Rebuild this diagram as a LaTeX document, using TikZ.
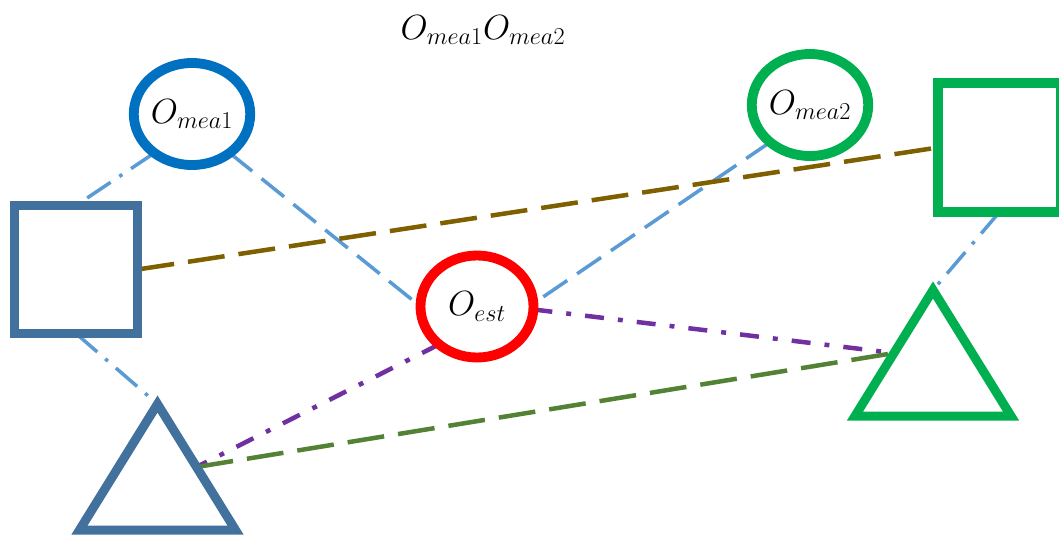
\documentclass[tikz,border=0pt]{standalone}
\usepackage{amssymb, amsmath}
\usepackage{tikz}
\usetikzlibrary{calc, shapes.geometric, backgrounds}
\definecolor{meablue}{RGB}{0, 112, 192}
\definecolor{meagreen}{RGB}{0, 176, 80}
\definecolor{estred}{RGB}{255, 0, 0}
\definecolor{slate}{RGB}{65, 113, 156}
\definecolor{skyline}{RGB}{91, 155, 213}
\definecolor{ochre}{RGB}{127, 96, 0}
\definecolor{violet}{RGB}{112, 48, 160}
\definecolor{olive}{RGB}{84, 130, 53}

\begin{document}
\begin{tikzpicture}[x=0.025cm, y=-0.025cm,
    font=\fontsize{24}{28}\selectfont,
    obs/.style={ellipse, draw=#1, line width=7pt, inner sep=0pt, outer sep=0pt,
      minimum width=2.825cm, minimum height=2.55cm},
    box/.style={rectangle, draw=#1, line width=6.8pt, inner sep=0pt, outer sep=0pt,
      minimum width=3.075cm, minimum height=3.2cm},
    tri/.style={isosceles triangle, isosceles triangle stretches,
      shape border rotate=90, draw=#1, line width=6.4pt, inner sep=0pt, outer sep=0pt,
      minimum width=3.9cm, minimum height=3.15cm, anchor=apex},
    skydash/.style={skyline, line width=2.5pt, dash pattern=on 20.6pt off 8.5pt},
    skydot/.style={skyline, line width=2.5pt,
      dash pattern=on 20pt off 7.5pt on 2.5pt off 7.5pt},
    violetdot/.style={violet, line width=3.2pt,
      dash pattern=on 13.5pt off 10pt on 3.5pt off 10pt},
    longdash/.style={line width=3.2pt, dash pattern=on 26.3pt off 10pt}]

  \useasboundingbox (0, 0) rectangle (1059, 535);

  \node (title) at (483, 30) { $O_{mea1}O_{mea2}$ };

  \node[obs=meablue] (mea1) at (192, 114) { $O_{mea1}$ };
  \node[obs=meagreen] (mea2) at (810, 105) { $O_{mea2}$ };
  \node[obs=estred] (est) at (477, 306.5) { $O_{est}$ };

  \node[box=slate] (lsq) at (76, 269.5) {};
  \node[box=meagreen, minimum height=3.225cm] (gsq) at (999.5, 147.5) {};

  \node[tri=slate] (ltri) at (157.5, 404) {};
  \node[tri=meagreen] (gtri) at (933, 290) {};

  \coordinate (ltri-r) at ($(ltri.apex)!0.5!(ltri.right corner)$);
  \coordinate (gtri-l) at ($(gtri.apex)!0.5!(gtri.left corner)$);

  \begin{pgfonlayer}{background}
    \draw[skydot] (mea1.226) -- (lsq.north);
    \draw[skydash] (mea1.-46) -- (est.180);
    \draw[skydash] (mea2.223) -- (est.3);
    \draw[longdash, ochre] (lsq.east) -- (gsq.west);
    \draw[skydot] (lsq.south) -- (ltri.apex);
    \draw[violetdot] (est.225) -- (ltri-r);
    \draw[violetdot] (est.-3) -- (gtri-l);
    \draw[longdash, olive] (ltri-r) -- (gtri-l);
    \draw[skydot] (gsq.south) -- (gtri.apex);
  \end{pgfonlayer}

\end{tikzpicture}
\end{document}
